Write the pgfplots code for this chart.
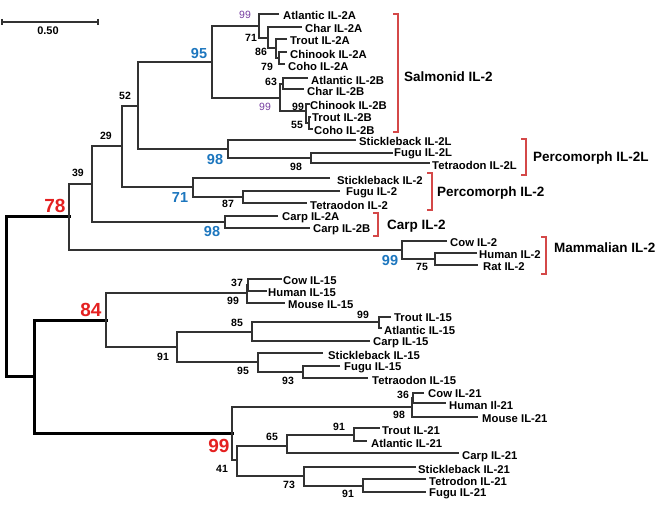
\documentclass[border=0pt]{standalone}
\usepackage{pgfplots}
\pgfplotsset{compat=1.18}
\usepackage{fontspec}
\setmainfont{Liberation Sans}
\definecolor{brn}{RGB}{50,50,50}
\definecolor{bkt}{RGB}{212,72,72}
\definecolor{nblue}{RGB}{28,118,190}
\definecolor{nred}{RGB}{228,32,32}
\definecolor{npurple}{RGB}{118,62,160}
\tikzset{
  tl/.style={draw=brn, line width=1.15pt, mark=none},
  tk/.style={draw=black, line width=3pt, mark=none, line cap=rect},
  bk/.style={draw=bkt, line width=1.2pt, mark=none},
  lf/.style={anchor=west, inner sep=0pt, font=\fontsize{11.3}{13}\selectfont\bfseries},
  nb/.style={anchor=center, inner sep=0pt, font=\fontsize{10.5}{12}\selectfont\bfseries},
  nbl/.style={anchor=center, inner sep=0pt, text=nblue, font=\fontsize{14.5}{16}\selectfont\bfseries},
  npu/.style={anchor=center, inner sep=0pt, text=npurple, font=\fontsize{10.5}{12}\selectfont},
  nrd/.style={anchor=center, inner sep=0pt, text=nred, font=\fontsize{19}{21}\selectfont\bfseries},
  gp/.style={anchor=west, inner sep=0pt, font=\fontsize{13.5}{15}\selectfont\bfseries},
}
\begin{document}
\begin{tikzpicture}
\begin{axis}[scale only axis, width=661pt, height=505pt,
  xmin=0, xmax=661, ymin=0, ymax=505, y dir=reverse, hide axis, clip=false]
\addplot[draw=none, mark=none] coordinates {(0,0) (661,505)};
% scale bar
\addplot[tl] coordinates {(2,22) (98,22)};
\addplot[tl] coordinates {(2,19) (2,25)};
\addplot[tl] coordinates {(98,19) (98,25)};
\node[nb, font=\fontsize{11}{13}\selectfont\bfseries] at (48,31) {0.50};
% thick backbone
\addplot[tk] coordinates {(69,217) (6,217) (6,376) (34,376)};
\addplot[tk] coordinates {(106,320) (34,320) (34,433) (232,433)};
% IL-2 clade
\addplot[tl] coordinates {(92,184) (69,184) (69,250) (402,250)};
\addplot[tl] coordinates {(122,146) (92,146) (92,222) (225,222)};
\addplot[tl] coordinates {(138,106) (122,106) (122,187) (193,187)};
\addplot[tl] coordinates {(212,62) (138,62) (138,149) (228,149)};
\addplot[tl] coordinates {(259,26) (212,26) (212,98) (280,98)};
\addplot[tl] coordinates {(279,14) (259,14) (259,38) (268,38)};
\addplot[tl] coordinates {(302,27) (268,27) (268,48) (276,48)};
\addplot[tl] coordinates {(287,39) (276,39) (276,58) (279,58)};
\addplot[tl] coordinates {(287,52) (279,52) (279,64) (285,64)};
\addplot[tl] coordinates {(283,84) (280,84) (280,111) (306,111)};
\addplot[tl] coordinates {(308,78) (283,78) (283,89) (304,89)};
\addplot[tl] coordinates {(310,104) (306,104) (306,123) (309,123)};
\addplot[tl] coordinates {(311,117) (309,117) (309,129) (313,129)};
\addplot[tl] coordinates {(356,140) (228,140) (228,158) (311,158)};
\addplot[tl] coordinates {(393,153) (311,153) (311,163) (430,163)};
\addplot[tl] coordinates {(330,178) (193,178) (193,197) (243,197)};
\addplot[tl] coordinates {(340,191) (243,191) (243,203) (307,203)};
\addplot[tl] coordinates {(278,216) (225,216) (225,228) (310,228)};
\addplot[tl] coordinates {(447,241) (402,241) (402,259) (435,259)};
\addplot[tl] coordinates {(477,253) (435,253) (435,265) (478,265)};
% IL-15 clade
\addplot[tl] coordinates {(247,293) (106,293) (106,347) (177,347)};
\addplot[tl] coordinates {(248,285) (247,285) (247,303) (285,303)};
\addplot[tl] coordinates {(282,279) (248,279) (248,291) (267,291)};
\addplot[tl] coordinates {(252,332) (177,332) (177,362) (258,362)};
\addplot[tl] coordinates {(379,322) (252,322) (252,341) (370,341)};
\addplot[tl] coordinates {(391,317) (379,317) (379,328) (382,328)};
\addplot[tl] coordinates {(323,353) (258,353) (258,372) (303,372)};
\addplot[tl] coordinates {(340,366) (303,366) (303,378) (368,378)};
% IL-21 clade
\addplot[tl] coordinates {(412,407) (232,407) (232,460) (237,460)};
\addplot[tl] coordinates {(413,398) (412,398) (412,417) (478,417)};
\addplot[tl] coordinates {(424,393) (413,393) (413,403) (446,403)};
\addplot[tl] coordinates {(287,446) (237,446) (237,476) (304,476)};
\addplot[tl] coordinates {(354,435) (287,435) (287,453) (459,453)};
\addplot[tl] coordinates {(380,428) (354,428) (354,441) (367,441)};
\addplot[tl] coordinates {(416,467) (304,467) (304,486) (363,486)};
\addplot[tl] coordinates {(426,479) (363,479) (363,492) (426,492)};
% brackets
\addplot[bk] coordinates {(393,14) (398,14) (398,132) (393,132)};
\addplot[bk] coordinates {(521,139) (526,139) (526,175) (521,175)};
\addplot[bk] coordinates {(427,173) (432,173) (432,210) (427,210)};
\addplot[bk] coordinates {(373,213) (378,213) (378,236) (373,236)};
\addplot[bk] coordinates {(541,237) (546,237) (546,274) (541,274)};
% group labels
\node[gp] at (404,77) {Salmonid IL-2};
\node[gp] at (533,158) {Percomorph IL-2L};
\node[gp] at (437,193) {Percomorph IL-2};
\node[gp] at (387,226) {Carp IL-2};
\node[gp] at (554,248) {Mammalian IL-2};
% leaf labels
\node[lf] at (283,15) {Atlantic IL-2A};
\node[lf] at (305,28) {Char IL-2A};
\node[lf] at (290,41) {Trout IL-2A};
\node[lf] at (290,54) {Chinook IL-2A};
\node[lf] at (288,66) {Coho IL-2A};
\node[lf] at (311,80) {Atlantic IL-2B};
\node[lf] at (307,91) {Char IL-2B};
\node[lf] at (310,105) {Chinook IL-2B};
\node[lf] at (312,118) {Trout IL-2B};
\node[lf] at (314,130) {Coho IL-2B};
\node[lf] at (359,141) {Stickleback IL-2L};
\node[lf] at (394,154) {Fugu IL-2L};
\node[lf] at (432,165) {Tetraodon IL-2L};
\node[lf] at (337,180) {Stickleback IL-2};
\node[lf] at (346,193) {Fugu IL-2};
\node[lf] at (310,205) {Tetraodon IL-2};
\node[lf] at (282,218) {Carp IL-2A};
\node[lf] at (313,230) {Carp IL-2B};
\node[lf] at (450,243) {Cow IL-2};
\node[lf] at (479,255) {Human IL-2};
\node[lf] at (483,267) {Rat IL-2};
\node[lf] at (283,281) {Cow IL-15};
\node[lf] at (268,293) {Human IL-15};
\node[lf] at (288,305) {Mouse IL-15};
\node[lf] at (394,318) {Trout IL-15};
\node[lf] at (384,330) {Atlantic IL-15};
\node[lf] at (373,343) {Carp IL-15};
\node[lf] at (328,355) {Stickleback IL-15};
\node[lf] at (344,368) {Fugu IL-15};
\node[lf] at (372,380) {Tetraodon IL-15};
\node[lf] at (428,394) {Cow IL-21};
\node[lf] at (449,405) {Human Il-21};
\node[lf] at (482,419) {Mouse IL-21};
\node[lf] at (382,431) {Trout IL-21};
\node[lf] at (371,443) {Atlantic IL-21};
\node[lf] at (462,457) {Carp IL-21};
\node[lf] at (418,469) {Stickleback IL-21};
\node[lf] at (429,481) {Tetrodon IL-21};
\node[lf] at (429,494) {Fugu IL-21};
% black support values
\node[nb] at (251,38) {71};
\node[nb] at (261,52) {86};
\node[nb] at (267,67) {79};
\node[nb] at (271,82) {63};
\node[nb] at (298,107) {99};
\node[nb] at (297,125) {55};
\node[nb] at (125,96) {52};
\node[nb] at (106,136) {29};
\node[nb] at (78,173) {39};
\node[nb] at (296,167) {98};
\node[nb] at (228,204) {87};
\node[nb] at (422,267) {75};
\node[nb] at (237,283) {37};
\node[nb] at (233,301) {99};
\node[nb] at (237,323) {85};
\node[nb] at (363,315) {99};
\node[nb] at (163,357) {91};
\node[nb] at (243,371) {95};
\node[nb] at (288,381) {93};
\node[nb] at (403,395) {36};
\node[nb] at (399,415) {98};
\node[nb] at (339,427) {91};
\node[nb] at (272,437) {65};
\node[nb] at (222,469) {41};
\node[nb] at (289,485) {73};
\node[nb] at (348,494) {91};
% purple
\node[npu] at (245,15) {99};
\node[npu] at (265,107) {99};
% blue
\node[nbl] at (199,54) {95};
\node[nbl] at (215,160) {98};
\node[nbl] at (180,198) {71};
\node[nbl] at (212,232) {98};
\node[nbl] at (390,261) {99};
% red
\node[nrd] at (55,206) {78};
\node[nrd] at (91,310) {84};
\node[nrd] at (219,446) {99};
\end{axis}
\end{tikzpicture}
\end{document}
